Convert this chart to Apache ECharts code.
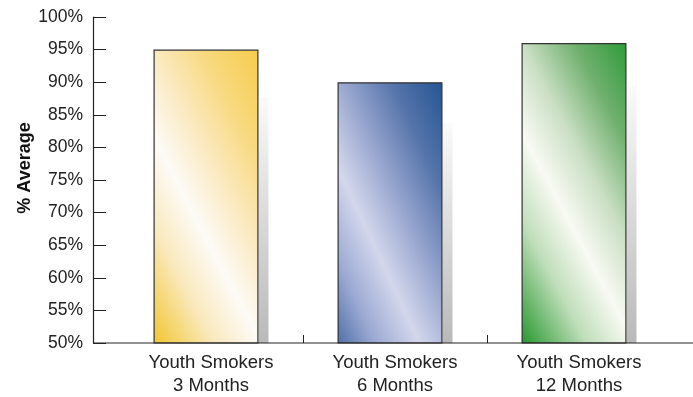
<!DOCTYPE html>
<html>
<head>
<meta charset="utf-8">
<script src="https://cdn.jsdelivr.net/npm/echarts@6/dist/echarts.min.js"></script>
<style>html,body{margin:0;padding:0;background:#fff}#c{width:693px;height:397px}</style>
</head>
<body>
<div id="c"></div>
<script>
var categories = ['Youth Smokers\n3 Months', 'Youth Smokers\n6 Months', 'Youth Smokers\n12 Months'];
var averages = [95, 90, 96];
var shadowTops = [87.7, 83.7, 89.3];
var yTicks = { min: 50, max: 100, interval: 5 };
var yTitle = '% Average';

var stopsList = [
  ['#f6cc4e', '#f8d87a', '#fbe9bf', '#fdfbf7', '#fae9bd', '#f1c42a'],
  ['#245592', '#5473aa', '#98a6cf', '#d3d7ec', '#9aa8d2', '#214f8d'],
  ['#2d9b3a', '#70b06e', '#cadfc4', '#f8faf3', '#c0deba', '#2b9a33']
];
function grad(c) {
  var offs = [0, 0.2, 0.4, 0.58, 0.76, 1];
  return {
    type: 'linear', x: 1, y: 0, x2: -0.946, y2: 0.363,
    colorStops: c.map(function (col, k) { return { offset: offs[k], color: col }; })
  };
}
var chart = echarts.init(document.getElementById('c'), null, { renderer: 'canvas' });
var font = '"Liberation Sans", Arial, sans-serif';
chart.setOption({
  animation: false,
  grid: { left: 119, right: 22, top: 17, bottom: 52, containLabel: false },
  xAxis: {
    type: 'category', data: categories,
    axisLine: { show: false },
    axisTick: { show: false },
    axisLabel: { fontFamily: font, fontSize: 18.5, color: '#222', lineHeight: 23, margin: 8 }
  },
  yAxis: {
    type: 'value', min: yTicks.min, max: yTicks.max, interval: yTicks.interval,
    offset: 26,
    axisLine: { show: true, lineStyle: { color: '#222', width: 1.2 } },
    axisTick: { show: true, inside: true, length: 13, lineStyle: { color: '#222' } },
    axisLabel: { formatter: '{value}%', fontFamily: font, fontSize: 17.5, color: '#222', margin: 10 },
    splitLine: { show: false }
  },
  series: [
    {
      type: 'bar', barWidth: 105, barGap: '0%',
      data: averages.map(function (v, i) {
        return { value: v, itemStyle: { color: grad(stopsList[i]) } };
      }),
      itemStyle: { borderColor: '#333', borderWidth: 1.2 },
      z: 3
    },
    {
      type: 'bar', barWidth: 10,
      data: shadowTops,
      itemStyle: { color: { type: 'linear', x: 0, y: 0, x2: 0, y2: 1,
        colorStops: [{ offset: 0, color: '#fafafa' }, { offset: 1, color: '#b9b9b9' }] } },
      z: 2
    }
  ]
});
// axis baseline and interior category-boundary ticks, positioned via the axis scale
var base = chart.convertToPixel({ yAxisIndex: 0 }, yTicks.min);
var g = [
  { type: 'line', shape: { x1: 93, y1: base, x2: 693, y2: base }, style: { stroke: '#222', lineWidth: 1.2 }, z: 50 },
  { type: 'text', x: 25, y: 168, rotation: Math.PI / 2,
    style: { text: yTitle, fontFamily: font, fontWeight: 'bold', fontSize: 18, fill: '#111',
      textAlign: 'center', textVerticalAlign: 'middle' } }
];
for (var i = 0; i < categories.length - 1; i++) {
  var a = chart.convertToPixel({ xAxisIndex: 0 }, i);
  var b = chart.convertToPixel({ xAxisIndex: 0 }, i + 1);
  var xm = Math.round((a + b) / 2) + 0.5;
  g.push({ type: 'line', shape: { x1: xm, y1: base, x2: xm, y2: base - 8 }, style: { stroke: '#222', lineWidth: 1 }, z: 50 });
}
chart.setOption({ graphic: g });
</script>
</body>
</html>
